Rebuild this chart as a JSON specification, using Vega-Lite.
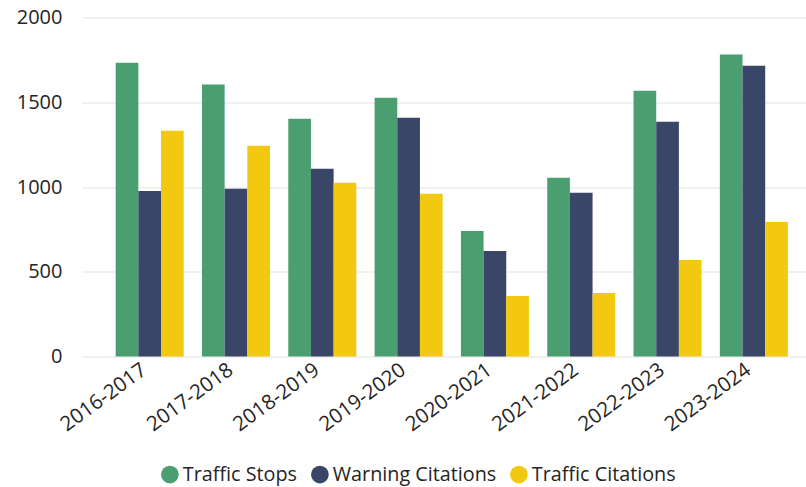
{
  "$schema": "https://vega.github.io/schema/vega-lite/v6.json",
  "width": 724,
  "height": 339,
  "autosize": {"type": "none"},
  "padding": {"left": 82, "top": 17.5, "right": 0, "bottom": 130.5},
  "background": "white",
  "config": {
    "view": {"stroke": null},
    "font": "Open Sans"
  },
  "data": {
    "values": [
      {"period": "2016-2017", "series": "Traffic Stops", "value": 1733},
      {"period": "2016-2017", "series": "Warning Citations", "value": 977},
      {"period": "2016-2017", "series": "Traffic Citations", "value": 1332},
      {"period": "2017-2018", "series": "Traffic Stops", "value": 1604},
      {"period": "2017-2018", "series": "Warning Citations", "value": 989},
      {"period": "2017-2018", "series": "Traffic Citations", "value": 1243},
      {"period": "2018-2019", "series": "Traffic Stops", "value": 1402},
      {"period": "2018-2019", "series": "Warning Citations", "value": 1107},
      {"period": "2018-2019", "series": "Traffic Citations", "value": 1025},
      {"period": "2019-2020", "series": "Traffic Stops", "value": 1527},
      {"period": "2019-2020", "series": "Warning Citations", "value": 1409},
      {"period": "2019-2020", "series": "Traffic Citations", "value": 960},
      {"period": "2020-2021", "series": "Traffic Stops", "value": 741},
      {"period": "2020-2021", "series": "Warning Citations", "value": 623},
      {"period": "2020-2021", "series": "Traffic Citations", "value": 357},
      {"period": "2021-2022", "series": "Traffic Stops", "value": 1054},
      {"period": "2021-2022", "series": "Warning Citations", "value": 966},
      {"period": "2021-2022", "series": "Traffic Citations", "value": 375},
      {"period": "2022-2023", "series": "Traffic Stops", "value": 1568},
      {"period": "2022-2023", "series": "Warning Citations", "value": 1385},
      {"period": "2022-2023", "series": "Traffic Citations", "value": 570},
      {"period": "2023-2024", "series": "Traffic Stops", "value": 1781},
      {"period": "2023-2024", "series": "Warning Citations", "value": 1716},
      {"period": "2023-2024", "series": "Traffic Citations", "value": 794}
    ]
  },
  "mark": {"type": "bar"},
  "encoding": {
    "x": {
      "field": "period",
      "type": "nominal",
      "sort": null,
      "scale": {"paddingInner": 0.212, "paddingOuter": 0.3, "align": 0.65},
      "axis": {
        "title": null,
        "labelAngle": -36,
        "labelAlign": "right",
        "labelBaseline": "top",
        "labelFontSize": 20.5,
        "labelColor": "#252423",
        "labelPadding": 3,
        "labelOffset": -11,
        "ticks": false,
        "domain": false,
        "grid": false
      }
    },
    "xOffset": {
      "field": "series",
      "type": "nominal",
      "sort": ["Traffic Stops", "Warning Citations", "Traffic Citations"],
      "scale": {"paddingInner": 0, "paddingOuter": 0}
    },
    "y": {
      "field": "value",
      "type": "quantitative",
      "scale": {"domain": [0, 2000]},
      "axis": {
        "title": null,
        "values": [0, 500, 1000, 1500, 2000],
        "format": "d",
        "labelFontSize": 20,
        "labelColor": "#252423",
        "labelPadding": 20,
        "ticks": false,
        "domain": false,
        "gridColor": "#ebebeb",
        "gridWidth": 1.5
      }
    },
    "color": {
      "field": "series",
      "type": "nominal",
      "scale": {
        "domain": ["Traffic Stops", "Warning Citations", "Traffic Citations"],
        "range": ["#4a9e70", "#3a4667", "#f2c811"]
      },
      "legend": {
        "title": null,
        "orient": "none",
        "direction": "horizontal",
        "legendX": 78,
        "legendY": 447,
        "symbolType": "circle",
        "symbolSize": 314,
        "symbolStrokeWidth": 0,
        "symbolOpacity": 1,
        "labelFontSize": 19.8,
        "labelLimit": 400,
        "labelColor": "#252423",
        "labelOffset": 3,
        "columnPadding": 12
      }
    }
  }
}
